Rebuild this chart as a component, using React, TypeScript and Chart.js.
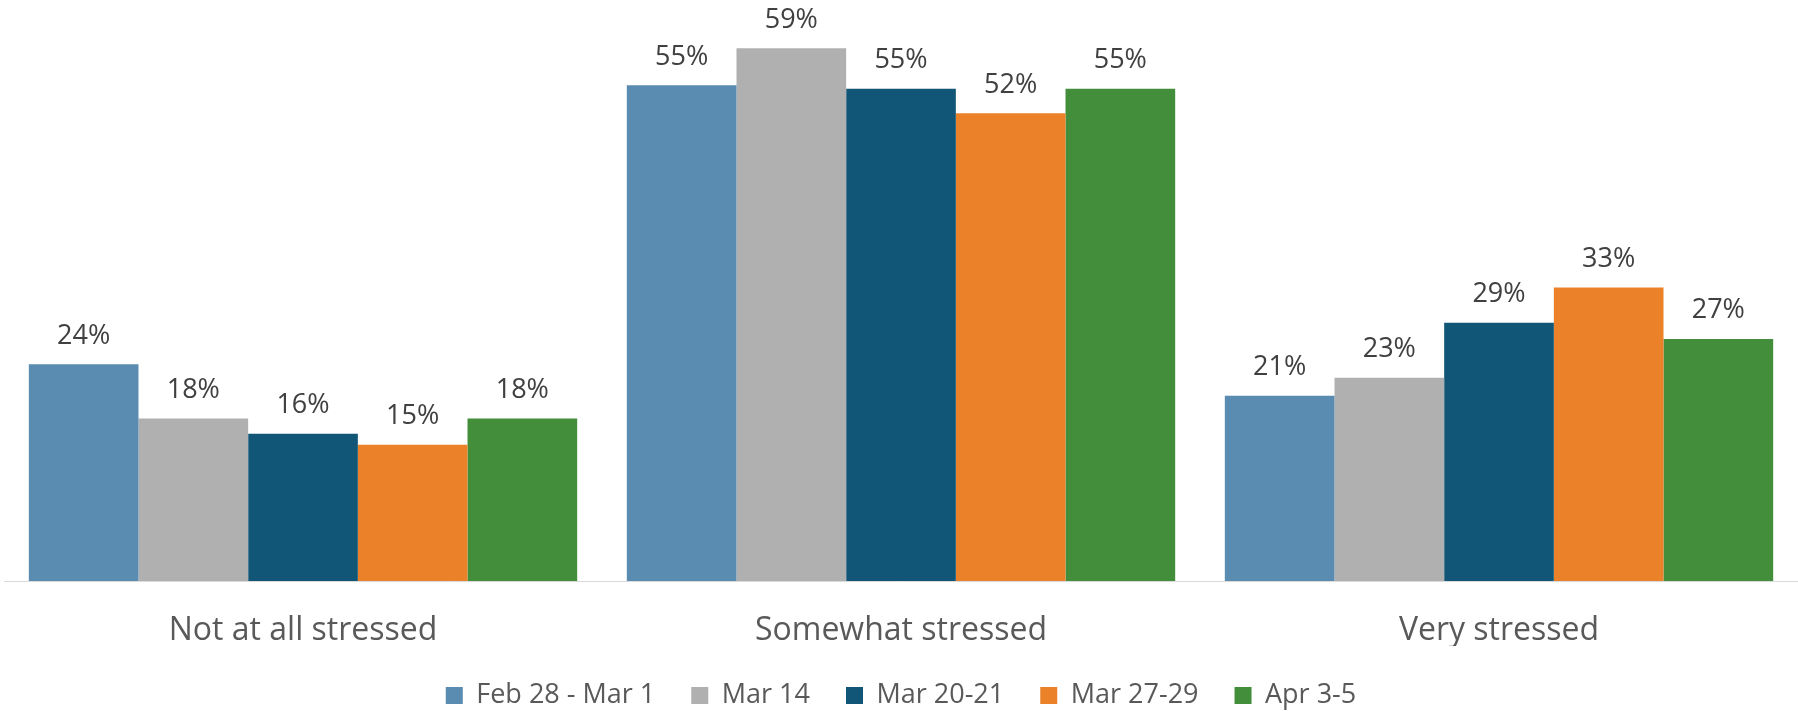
import React, { useEffect, useRef } from "react";
import { Chart, registerables } from "chart.js";

Chart.register(...registerables);

const categories = ["Not at all stressed", "Somewhat stressed", "Very stressed"];
const seriesNames = ["Feb 28 - Mar 1", "Mar 14", "Mar 20-21", "Mar 27-29", "Apr 3-5"];
const febMar1 = [24.0, 54.9, 20.5];
const mar14 = [18.0, 59.0, 22.5];
const mar2021 = [16.3, 54.5, 28.6];
const mar2729 = [15.1, 51.8, 32.5];
const apr35 = [18.0, 54.5, 26.8];
const seriesColors = ["#5A8BB0", "#B0B0B0", "#125677", "#EB8128", "#428E3B"];

const FONT = "'Open Sans', sans-serif";
const LEGEND_PAD = 36;

const dataLabelPlugin = {
  id: "dataLabels",
  afterDatasetsDraw(chart: any) {
    const ctx = chart.ctx;
    ctx.save();
    ctx.font = `27px ${FONT}`;
    ctx.fillStyle = "#404040";
    ctx.textAlign = "center";
    ctx.textBaseline = "alphabetic";
    chart.data.datasets.forEach((ds: any, i: number) => {
      const meta = chart.getDatasetMeta(i);
      meta.data.forEach((bar: any, j: number) => {
        const v = ds.data[j];
        ctx.fillText(`${Math.round(v)}%`, bar.x, bar.y - 20.5);
      });
    });
    ctx.restore();
  },
};

export default function App() {
  const ref = useRef<HTMLCanvasElement>(null);
  useEffect(() => {
    if (!ref.current) return;
    const values = [febMar1, mar14, mar2021, mar2729, apr35];
    const chart = new Chart(ref.current, {
      type: "bar",
      data: {
        labels: categories,
        datasets: seriesNames.map((name, i) => ({
          label: name,
          data: values[i],
          backgroundColor: seriesColors[i],
          borderWidth: 0,
          categoryPercentage: 0.917,
          barPercentage: 1.0,
        })),
      },
      options: {
        animation: false,
        responsive: false,
        layout: { padding: { left: 4, right: 0, top: 3, bottom: -8 } },
        plugins: {
          legend: {
            position: "bottom",
            labels: {
              font: { family: FONT, size: 27 },
              color: "#595959",
              boxWidth: 17,
              boxHeight: 17,
              padding: LEGEND_PAD,
            },
          },
          tooltip: { enabled: false },
        },
        scales: {
          x: {
            grid: { display: false, drawTicks: false },
            border: { display: true, color: "#D9D9D9", width: 1 },
            ticks: {
              font: { family: FONT, size: 32 },
              color: "#595959",
              padding: 30.6,
            },
            afterFit: (scale: any) => {
              scale.height = 101 - LEGEND_PAD;
            },
          },
          y: {
            display: false,
            min: 0,
            max: 64,
          },
        },
      },
      plugins: [dataLabelPlugin],
    });
    return () => chart.destroy();
  }, []);
  return (
    <div style={{ position: "absolute", left: 0, top: 0, width: 1798, height: 711 }}>
      <canvas ref={ref} width={1798} height={711} style={{ display: "block" }} />
    </div>
  );
}
